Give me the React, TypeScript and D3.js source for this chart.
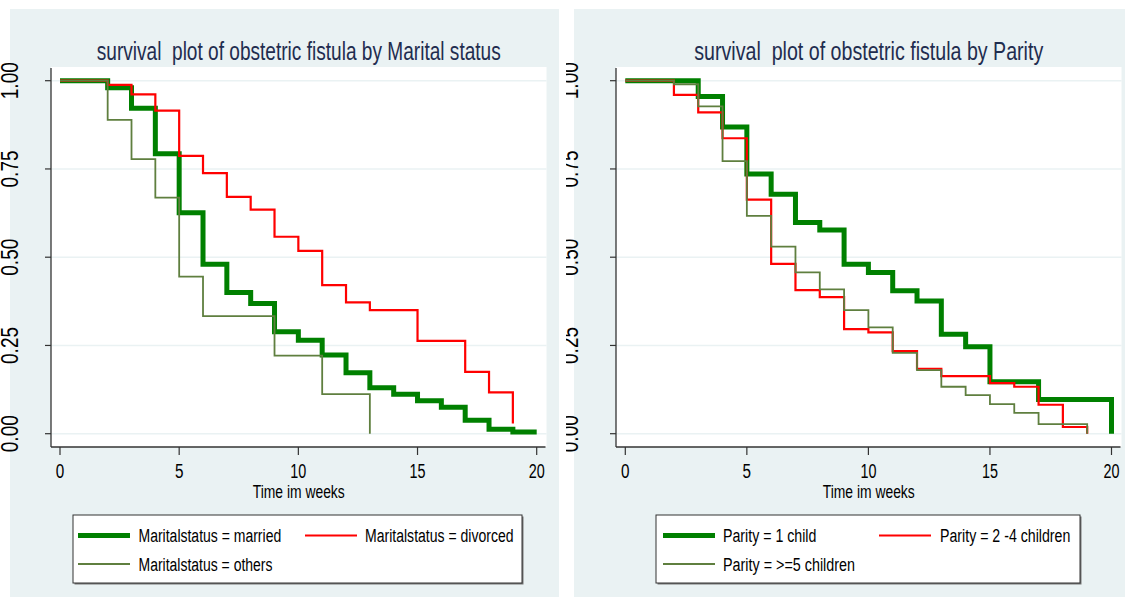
import * as d3 from "d3";

// axis ticks
const xTicks = [0, 5, 10, 15, 20];
const yTicks = [0, 0.25, 0.5, 0.75, 1];

// survival by marital status (Kaplan-Meier steps)
const marriedTime = [0, 2, 3, 4, 5, 6, 7, 8, 9, 10, 11, 12, 13, 14, 15, 16, 17, 18, 19, 20];
const marriedSurv = [1, 0.98, 0.922, 0.793, 0.626, 0.48, 0.4, 0.369, 0.289, 0.265, 0.223, 0.173, 0.13, 0.112, 0.093, 0.075, 0.038, 0.0125, 0.005, 0.005];
const divorcedTime = [0, 2, 3, 4, 5, 6, 7, 8, 9, 10, 11, 12, 13, 15, 17, 18, 19];
const divorcedSurv = [1, 0.988, 0.961, 0.915, 0.787, 0.738, 0.671, 0.635, 0.558, 0.518, 0.421, 0.372, 0.35, 0.263, 0.175, 0.117, 0.029];
const othersTime = [0, 2, 3, 4, 5, 6, 9, 11, 13];
const othersSurv = [1, 0.889, 0.778, 0.669, 0.445, 0.333, 0.221, 0.112, 0];

// survival by parity
const oneChildTime = [0, 3, 4, 5, 6, 7, 8, 9, 10, 11, 12, 13, 14, 15, 17, 20];
const oneChildSurv = [1, 0.955, 0.869, 0.736, 0.678, 0.598, 0.577, 0.48, 0.457, 0.405, 0.376, 0.282, 0.246, 0.147, 0.097, 0];
const twoFourTime = [0, 2, 3, 4, 5, 6, 7, 8, 9, 10, 11, 12, 13, 15, 16, 17, 18, 19];
const twoFourSurv = [1, 0.96, 0.91, 0.837, 0.663, 0.481, 0.407, 0.387, 0.296, 0.287, 0.234, 0.184, 0.163, 0.143, 0.133, 0.082, 0.019, 0];
const fivePlusTime = [0, 2, 3, 4, 5, 6, 7, 8, 9, 10, 11, 12, 13, 14, 15, 16, 17, 19];
const fivePlusSurv = [1, 0.99, 0.927, 0.772, 0.617, 0.53, 0.457, 0.409, 0.35, 0.301, 0.229, 0.18, 0.133, 0.109, 0.084, 0.059, 0.027, 0];

const FONT = "'Liberation Sans Narrow', 'Liberation Sans', Arial, sans-serif";
const BG = "#eaf2f3";
const GREEN = "#008000";
const RED = "#ff0000";
const OLIVE = "#5f7f3f";

const PLOT_TOP = 67;
const PLOT_BOTTOM = 447;

interface Series {
  label: string;
  time: number[];
  surv: number[];
  color: string;
  width: number;
  keyX: number;
  textX: number;
  textLen: number;
  row: number;
}

interface PanelProps {
  id: string;
  left: number;
  right: number;
  axisX: number;
  plotRight: number;
  x0: number;
  x20: number;
  labelX: number;
  clipX: number;
  title: string;
  titleLen: number;
  legendX: number;
  legendW: number;
  series: Series[];
}

function Panel(p: PanelProps) {
  const x = d3.scaleLinear().domain([0, 20]).range([p.x0, p.x20]);
  const y = d3.scaleLinear().domain([0, 1]).range([433.7, 80.7]);
  const line = d3
    .line<[number, number]>()
    .x((d) => x(d[0]))
    .y((d) => y(d[1]))
    .curve(d3.curveStepAfter);
  const mid = (p.axisX + p.plotRight) / 2;
  const fmt = d3.format(".2f");

  return (
    <g>
      <defs>
        <clipPath id={p.id + "-clip"}>
          <rect x={p.clipX} y={0} width={60} height={607} />
        </clipPath>
      </defs>
      <rect x={p.left} y={9} width={p.right - p.left} height={588} fill={BG} />
      <rect x={p.axisX} y={PLOT_TOP} width={p.plotRight - p.axisX} height={PLOT_BOTTOM - PLOT_TOP} fill="#fff" />

      {/* gridlines */}
      {yTicks.map((t) => (
        <line key={t} x1={p.axisX} x2={p.plotRight} y1={y(t)} y2={y(t)} stroke={BG} strokeWidth={1.5} />
      ))}

      {/* curves */}
      {p.series.map((s) => (
        <path
          key={s.label}
          d={line(s.time.map((t, i) => [t, s.surv[i]] as [number, number])) || ""}
          fill="none"
          stroke={s.color}
          strokeWidth={s.width}
          strokeLinejoin="miter"
        />
      ))}

      {/* axes */}
      <line x1={p.axisX} x2={p.axisX} y1={PLOT_TOP + 1} y2={PLOT_BOTTOM} stroke="#333" strokeWidth={1.3} />
      <line x1={p.axisX} x2={p.plotRight - 1} y1={PLOT_BOTTOM} y2={PLOT_BOTTOM} stroke="#333" strokeWidth={1.3} />
      {yTicks.map((t) => (
        <line key={t} x1={p.axisX - 6} x2={p.axisX} y1={y(t)} y2={y(t)} stroke="#333" strokeWidth={1.2} />
      ))}
      <g clipPath={`url(#${p.id}-clip)`}>
        {yTicks.map((t) => (
          <text
            key={t}
            transform={`translate(${p.labelX},${y(t)}) rotate(-90)`}
            textAnchor="middle"
            fontFamily={FONT}
            fontSize={24}
            textLength={37}
            lengthAdjust="spacingAndGlyphs"
            fill="#000"
          >
            {fmt(t)}
          </text>
        ))}
      </g>
      {xTicks.map((t) => (
        <g key={t}>
          <line x1={x(t)} x2={x(t)} y1={PLOT_BOTTOM} y2={PLOT_BOTTOM + 8} stroke="#333" strokeWidth={1.2} />
          <text
            x={x(t)}
            y={478}
            textAnchor="middle"
            fontFamily={FONT}
            fontSize={20}
            textLength={t < 10 ? 8.5 : 16}
            lengthAdjust="spacingAndGlyphs"
          >
            {t}
          </text>
        </g>
      ))}
      <text x={mid} y={498} textAnchor="middle" fontFamily={FONT} fontSize={18} textLength={92} lengthAdjust="spacingAndGlyphs">
        Time im weeks
      </text>

      {/* title */}
      <text
        x={mid}
        y={59.5}
        textAnchor="middle"
        fontFamily={FONT}
        fontSize={25}
        fill="#1f2d4f"
        textLength={p.titleLen}
        lengthAdjust="spacingAndGlyphs"
        style={{ whiteSpace: "pre" }}
      >
        {p.title}
      </text>

      {/* legend */}
      <rect x={p.legendX + 1.5} y={516.5} width={p.legendW} height={68} fill="#777" />
      <rect x={p.legendX} y={515} width={p.legendW} height={68} fill="#fff" stroke="#333" strokeWidth={1} />
      {p.series.map((s) => {
        const ky = s.row === 0 ? 535.5 : 564;
        return (
          <g key={s.label}>
            <line x1={s.keyX} x2={s.keyX + 52} y1={ky} y2={ky} stroke={s.color} strokeWidth={s.width} />
            <text
              x={s.textX}
              y={ky + 6.5}
              fontFamily={FONT}
              fontSize={18}
              textLength={s.textLen}
              lengthAdjust="spacingAndGlyphs"
            >
              {s.label}
            </text>
          </g>
        );
      })}
    </g>
  );
}

export default function App() {
  const marital: Series[] = [
    { label: "Maritalstatus = married", time: marriedTime, surv: marriedSurv, color: GREEN, width: 5, keyX: 78, textX: 138.5, textLen: 142.7, row: 0 },
    { label: "Maritalstatus = divorced", time: divorcedTime, surv: divorcedSurv, color: RED, width: 2.2, keyX: 305, textX: 365, textLen: 148.6, row: 0 },
    { label: "Maritalstatus = others", time: othersTime, surv: othersSurv, color: OLIVE, width: 1.8, keyX: 78, textX: 138.5, textLen: 134, row: 1 },
  ];
  const parity: Series[] = [
    { label: "Parity = 1 child", time: oneChildTime, surv: oneChildSurv, color: GREEN, width: 5, keyX: 663, textX: 723, textLen: 93.4, row: 0 },
    { label: "Parity = 2 -4 children", time: twoFourTime, surv: twoFourSurv, color: RED, width: 2.2, keyX: 879, textX: 940, textLen: 130.3, row: 0 },
    { label: "Parity = >=5 children", time: fivePlusTime, surv: fivePlusSurv, color: OLIVE, width: 1.8, keyX: 663, textX: 723, textLen: 132, row: 1 },
  ];

  return (
    <svg
      width={1125}
      height={607}
      style={{ position: "absolute", left: 0, top: 0, background: "#fff" }}
    >
      <Panel
        id="marital"
        left={10}
        right={559}
        axisX={51}
        plotRight={546.5}
        x0={60}
        x20={536.7}
        labelX={17.5}
        clipX={0}
        title="survival  plot of obstetric fistula by Marital status"
        titleLen={404}
        legendX={73}
        legendW={449}
        series={marital}
      />
      <Panel
        id="parity"
        left={574}
        right={1125}
        axisX={616}
        plotRight={1121.5}
        x0={625.3}
        x20={1111.5}
        labelX={577.5}
        clipX={566}
        title="survival  plot of obstetric fistula by Parity"
        titleLen={349}
        legendX={656}
        legendW={424}
        series={parity}
      />
    </svg>
  );
}
